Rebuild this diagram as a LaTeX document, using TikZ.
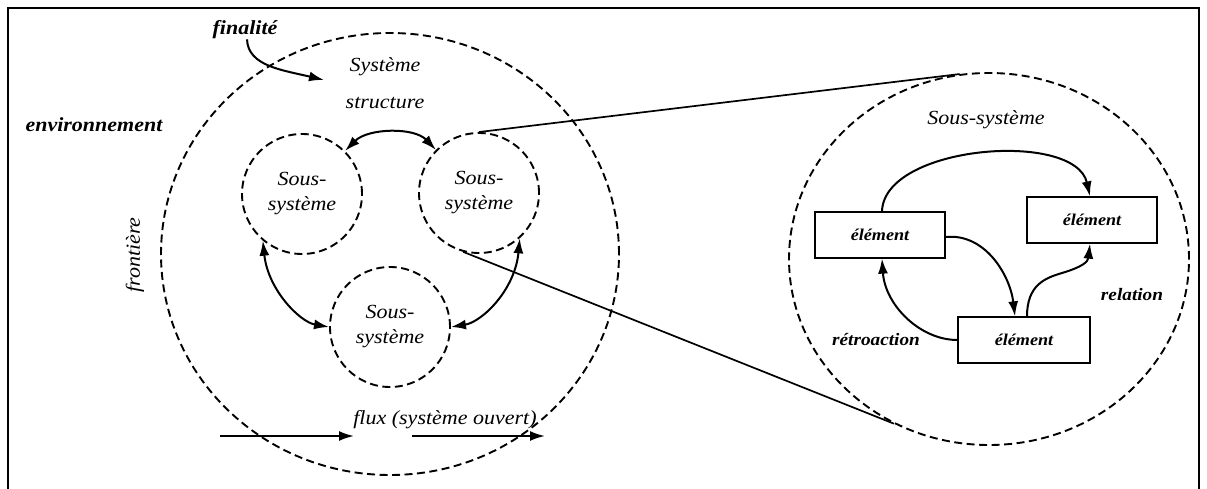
\documentclass[tikz,border=0pt]{standalone}
\usepackage{fontspec}
\setmainfont{Liberation Serif}[FakeStretch=1.1]
\usetikzlibrary{arrows.meta,shapes.geometric}
\begin{document}
\begin{tikzpicture}[x=1pt,y=-1pt,
  dsh/.style={draw, dash pattern=on 8pt off 4.5pt, line width=1.9pt},
  sub/.style={circle, dsh, minimum size=120pt, inner sep=0pt, align=center,
    font=\fontsize{20}{25}\selectfont\itshape},
  arr/.style={line width=2pt, -{Latex[length=15pt,width=10pt]}},
  darr/.style={line width=2pt, {Latex[length=15pt,width=10pt]}-{Latex[length=15pt,width=10pt]}},
  elem/.style={draw, line width=1.3pt, minimum width=130pt, minimum height=46pt, inner sep=0pt,
    font=\fontsize{16.5}{18}\selectfont\bfseries\itshape},
  lab/.style={font=\fontsize{20}{22}\selectfont\itshape, inner sep=0pt},
  blab/.style={font=\fontsize{20}{22}\selectfont\bfseries\itshape, inner sep=0pt},
  sblab/.style={font=\fontsize{17.5}{20}\selectfont\bfseries\itshape, inner sep=0pt},
  conn/.style={line width=1.7pt}
]
\useasboundingbox (0,0) rectangle (1207,489);
% frame
\draw[line width=2.5pt] (8,495) -- (8,8) -- (1199,8) -- (1199,495);

% big system circle
\node[ellipse, dsh, minimum width=458pt, minimum height=442pt, inner sep=0pt] (S) at (390,254) {};
% right sub-system ellipse
\node[ellipse, dsh, minimum width=400pt, minimum height=372pt, inner sep=0pt] (RC) at (989,259) {};

% sub-systems
\node[sub] (L) at (302,194) {Sous-\\système};
\node[sub] (R) at (479,193) {Sous-\\système};
\node[sub] (B) at (390,327) {Sous-\\système};

% labels
\node[blab] (fin) at (245,30) {finalité};
\node[lab] (sys) at (385,67) {Système};
\node[lab] (str) at (385,103) {structure};
\node[blab] (env) at (94,125) {environnement};
\node[lab, rotate=90] (fro) at (135,255) {frontière};
\node[lab] (flux) at (445,420) {flux (système ouvert)};

% finalité arrow
\coordinate (finend) at (324,80);
\draw[arr] ([xshift=2pt]fin.south) .. controls (248,66) and (282,70) .. (finend);

% arrows between sub-systems
\draw[darr] (L.45) .. controls (368,128) and (414,127) .. (R.135);
\draw[darr] (L.230) .. controls (268,290) and (300,322) .. (B.west);
\draw[darr] (R.312) .. controls (515,290) and (482,322) .. (B.east);

% flux arrows
\coordinate (fa1) at (220,436);
\coordinate (fa2) at (354,436);
\coordinate (fb1) at (412,436);
\coordinate (fb2) at (545,436);
\draw[arr] (fa1) -- (fa2);
\draw[arr] (fb1) -- (fb2);

% zoom connectors
\draw[conn] (R.90) -- (RC.99);
\draw[conn] (R.255) -- (RC.240);

% right detail
\node[lab] (rss) at (986,120) {Sous-système};
\node[elem] (e1) at (880,235) {élément};
\node[elem] (e2) at (1092,220) {élément};
\node[elem, minimum width=132pt] (e3) at (1024,340) {élément};
\node[sblab] (rel) at (1132,295) {relation};
\node[sblab] (retro) at (876,340) {rétroaction};

\draw[arr] ([xshift=2pt]e1.north) .. controls (884,145) and (1075,130) .. ([xshift=-2pt]e2.north);
\draw[arr] ([yshift=-2pt]e1.east) .. controls (985,233) and (1010,275) .. ([xshift=-9pt]e3.north);
\draw[arr] ([xshift=3pt]e3.north) .. controls (1027,285) and (1045,278) .. (1062,273)
  .. controls (1082,267) and (1088,262) .. ([xshift=-2pt]e2.south);
\draw[arr] (e3.west) .. controls (920,340) and (885,305) .. ([xshift=2pt]e1.south);
\end{tikzpicture}
\end{document}
